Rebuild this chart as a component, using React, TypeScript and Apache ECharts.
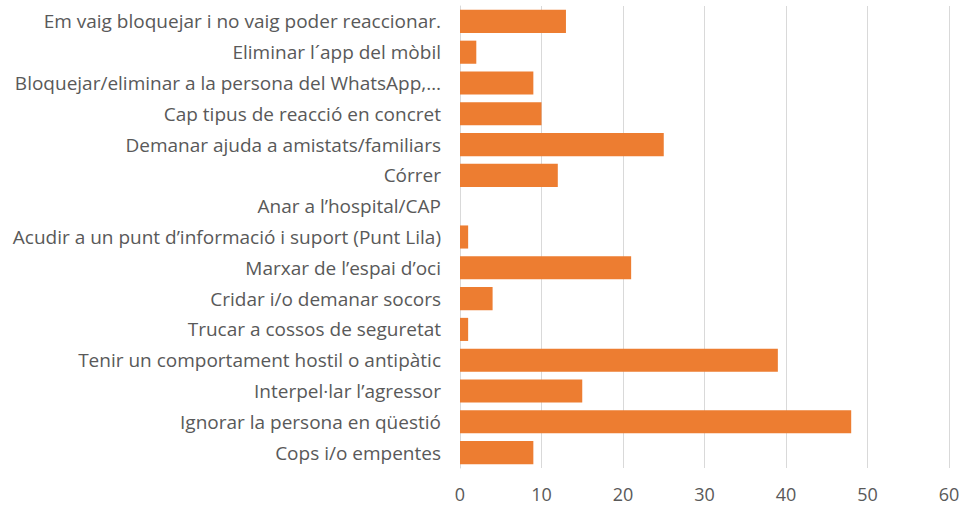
import React, { useEffect, useRef } from "react";
import * as echarts from "echarts";

const categories = [
  "Em vaig bloquejar i no vaig poder reaccionar.",
  "Eliminar l´app del mòbil",
  "Bloquejar/eliminar a la persona del WhatsApp,…",
  "Cap tipus de reacció en concret",
  "Demanar ajuda a amistats/familiars",
  "Córrer",
  "Anar a l’hospital/CAP",
  "Acudir a un punt d’informació i suport (Punt Lila)",
  "Marxar de l’espai d’oci",
  "Cridar i/o demanar socors",
  "Trucar a cossos de seguretat",
  "Tenir un comportament hostil o antipàtic",
  "Interpel·lar l’agressor",
  "Ignorar la persona en qüestió",
  "Cops i/o empentes",
];

const values = [13, 2, 9, 10, 25, 12, 0, 1, 21, 4, 1, 39, 15, 48, 9];

export default function App() {
  const ref = useRef<HTMLDivElement>(null);
  useEffect(() => {
    if (!ref.current) return;
    const chart = echarts.init(ref.current, undefined, { renderer: "svg" });
    chart.setOption({
      animation: false,
      grid: { left: 460, right: 24, top: 6, bottom: 42 },
      xAxis: {
        type: "value",
        min: 0,
        max: 60,
        interval: 10,
        axisLine: { show: false },
        axisTick: { show: false },
        splitLine: { show: true, lineStyle: { color: "#d9d9d9", width: 1 } },
        axisLabel: {
          color: "#595959",
          fontSize: 18,
          fontFamily: "Open Sans",
          margin: 17,
        },
      },
      yAxis: {
        type: "category",
        data: categories,
        inverse: true,
        axisLine: { show: true, lineStyle: { color: "#d9d9d9" } },
        axisTick: { show: false },
        axisLabel: {
          color: "#595959",
          fontSize: 19,
          fontFamily: "Open Sans",
          margin: 19,
          interval: 0,
        },
      },
      series: [
        {
          type: "bar",
          data: values,
          barCategoryGap: "25%",
          itemStyle: { color: "#ed7d31" },
        },
      ],
    });
    return () => chart.dispose();
  }, []);
  return <div ref={ref} style={{ width: 973, height: 510, position: "absolute", left: 0, top: 0 }} />;
}
